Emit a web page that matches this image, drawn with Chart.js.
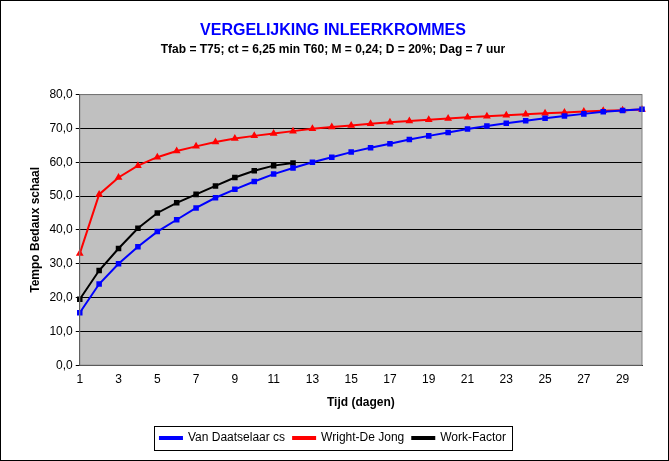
<!DOCTYPE html>
<html>
<head>
<meta charset="utf-8">
<script src="https://cdn.jsdelivr.net/npm/chart.js@4"></script>
<style>
  body { margin: 0; background: #fff; }
  #wrap { position: absolute; left: 0; top: 0; width: 667px; height: 459px; border: 1px solid #000; }
</style>
</head>
<body>
<div id="wrap"><canvas id="chart" width="667" height="459"></canvas></div>
<script>
const dagen = [];
for (let d = 1; d <= 30; d++) dagen.push(String(d));

const vanDaatselaar = [15.5, 24, 30, 35, 39.5, 43, 46.5, 49.5, 52, 54.3, 56.5, 58.3, 60, 61.5, 63,
    64.3, 65.5, 66.7, 67.8, 68.8, 69.8, 70.7, 71.5, 72.3, 73, 73.7, 74.3, 74.9, 75.3, 75.7];
const wrightDeJong = [33, 50.5, 55.5, 59, 61.5, 63.3, 64.7, 66, 67, 67.8, 68.5, 69.2, 69.9, 70.4, 70.9,
    71.4, 71.8, 72.2, 72.6, 72.9, 73.3, 73.6, 73.9, 74.2, 74.5, 74.7, 75, 75.2, 75.4, 75.6];
const workFactor = [19.5, 28, 34.5, 40.5, 45, 48, 50.5, 53, 55.5, 57.5, 59, 59.8];

const plotBg = {
    id: 'plotBg',
    beforeDraw(chart) {
        const { ctx, chartArea: a } = chart;
        ctx.save();
        ctx.fillStyle = '#c0c0c0';
        ctx.fillRect(a.left, a.top, a.right - a.left, a.bottom - a.top);
        ctx.restore();
    },
    afterDraw(chart) {
        const { ctx, chartArea: a } = chart;
        ctx.save();
        ctx.strokeStyle = '#808080';
        ctx.lineWidth = 1;
        ctx.strokeRect(a.left, a.top, a.right - a.left, a.bottom - a.top);
        // legend box around the items only
        const boxes = chart.legend.legendHitBoxes;
        if (boxes && boxes.length) {
            const x0 = Math.min(...boxes.map(b => b.left)) - 6;
            const x1 = Math.max(...boxes.map(b => b.left + b.width)) + 6;
            const y0 = Math.min(...boxes.map(b => b.top)) - 6;
            const y1 = Math.max(...boxes.map(b => b.top + b.height)) + 6;
            ctx.strokeStyle = '#000';
            ctx.strokeRect(Math.round(x0) + 0.5, Math.round(y0) + 0.5, Math.round(x1 - x0), Math.round(y1 - y0));
        }
        ctx.restore();
    }
};

function serie(label, data, color, shape) {
    return {
        label: label,
        data: data,
        borderColor: color,
        backgroundColor: color,
        borderWidth: 2,
        pointStyle: shape,
        pointRadius: 2.5,
        tension: 0
    };
}

const fnt = { family: 'Arial, "Liberation Sans", sans-serif', size: 12 };

new Chart(document.getElementById('chart').getContext('2d'), {
    type: 'line',
    data: {
        labels: dagen,
        datasets: [
            serie('Van Daatselaar cs', vanDaatselaar, '#0000ff', 'rect'),
            serie('Wright-De Jong', wrightDeJong, '#ff0000', 'triangle'),
            serie('Work-Factor', workFactor, '#000000', 'rect')
        ]
    },
    options: {
        responsive: false,
        animation: false,
        layout: { padding: { left: 23, right: 26, top: 4, bottom: 6 } },
        scales: {
            x: {
                offset: false,
                grid: { display: false, drawTicks: true, tickLength: 4, color: '#000' },
                border: { color: '#000' },
                ticks: {
                    color: '#000', font: fnt, maxRotation: 0, autoSkip: false,
                    callback: (v, i) => (i % 2 === 0 ? dagen[i] : '')
                },
                title: { display: true, text: 'Tijd (dagen)', color: '#000', font: { ...fnt, weight: 'bold' }, padding: { top: 6, bottom: 14 } }
            },
            y: {
                min: 0, max: 80,
                grid: { color: '#000', tickLength: 4 },
                border: { color: '#000' },
                ticks: {
                    stepSize: 10, color: '#000', font: fnt,
                    callback: v => v.toFixed(1).replace('.', ',')
                },
                title: { display: true, text: 'Tempo Bedaux schaal', color: '#000', font: { ...fnt, weight: 'bold' } }
            }
        },
        plugins: {
            title: {
                display: true, text: 'VERGELIJKING INLEERKROMMES', color: '#0000ff',
                font: { family: fnt.family, size: 16 }, padding: { top: 16, bottom: 2 }
            },
            subtitle: {
                display: true, text: 'Tfab = T75; ct = 6,25 min T60; M = 0,24; D = 20%; Dag = 7 uur',
                color: '#000', font: { ...fnt, weight: 'bold' }, padding: { bottom: 38 }
            },
            legend: {
                position: 'bottom',
                labels: { color: '#000', font: fnt, boxWidth: 22, boxHeight: 2, padding: 8 }
            },
            tooltip: { enabled: false }
        }
    },
    plugins: [plotBg]
});
</script>
</body>
</html>
